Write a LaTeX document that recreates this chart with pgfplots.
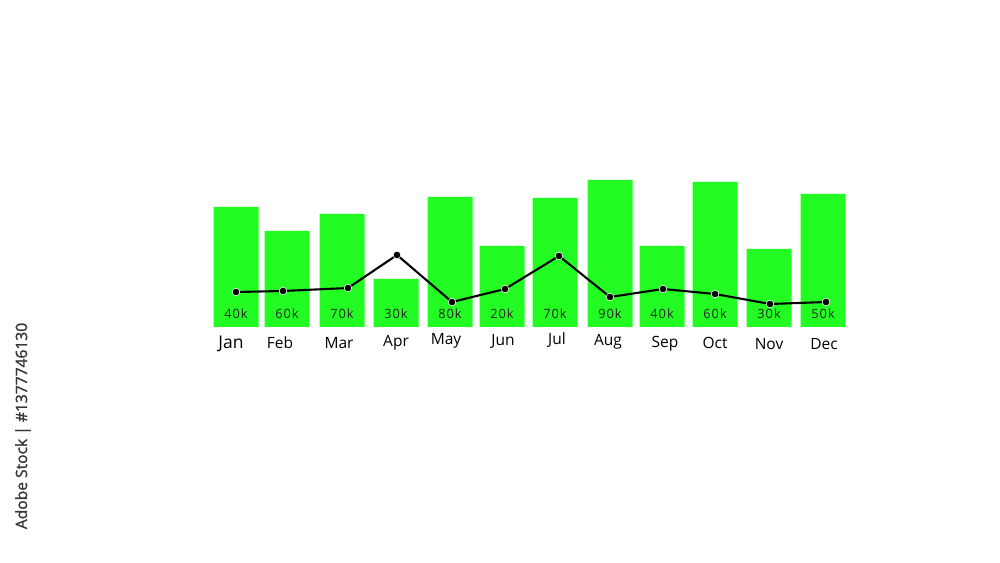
\documentclass[border=0pt]{standalone}
\usepackage{pgfplots}
\pgfplotsset{compat=1.18}
\usepackage{fontspec}
\setmainfont{Open Sans}
\definecolor{barGreen}{RGB}{34,252,34}
\definecolor{wm}{RGB}{55,55,55}
\tikzset{
  vl/.style={font=\fontsize{12.8}{14}\selectfont\addfontfeatures{LetterSpace=8}, text=black!85},
  ml/.style={font=\fontsize{15.5}{18}\selectfont},
}
\begin{document}
\begin{tikzpicture}
\begin{axis}[
  scale only axis, width=1000pt, height=562pt,
  xmin=0, xmax=1000, ymin=-235, ymax=327,
  axis lines=none, ticks=none, clip=false,
]
\path[draw=none, fill=none] (rel axis cs:0,0) rectangle (rel axis cs:1,1);
% bars: x = centre (px), y = height (px above baseline)
\addplot[ybar, bar width=45, fill=barGreen, draw=none] coordinates {
 (236,120) (287,96) (342,113) (396,48) (450,130) (502,81)
 (555,129) (610,147) (662,81) (715,145) (769,78) (823,133)};
% line
\addplot[black, line width=2.1pt, mark=*, mark size=3.8pt,
  mark options={fill=black, draw=white, line width=0.6pt}] coordinates {
 (236,35) (283,36) (348,39) (397,72) (452,25) (505,38)
 (559,71) (610,30) (663,38) (715,33) (770,23) (826,25)};
% labels inside bars
\node[vl] at (axis cs:236,13) {40k};
\node[vl] at (axis cs:287,13) {60k};
\node[vl] at (axis cs:342,13) {70k};
\node[vl] at (axis cs:396,13) {30k};
\node[vl] at (axis cs:450,13) {80k};
\node[vl] at (axis cs:502,13) {20k};
\node[vl] at (axis cs:555,13) {70k};
\node[vl] at (axis cs:610,13) {90k};
\node[vl] at (axis cs:662,13) {40k};
\node[vl] at (axis cs:715,13) {60k};
\node[vl] at (axis cs:769,13) {30k};
\node[vl] at (axis cs:823,13) {50k};
% month labels
\node[font=\fontsize{17.5}{20}\selectfont] at (axis cs:231,-17) {Jan};
\node[ml] at (axis cs:280,-16) {Feb};
\node[ml] at (axis cs:339,-16) {Mar};
\node[ml] at (axis cs:396,-16) {Apr};
\node[ml] at (axis cs:446,-14) {May};
\node[ml] at (axis cs:503,-14) {Jun};
\node[ml] at (axis cs:557,-13) {Jul};
\node[ml] at (axis cs:608,-15) {Aug};
\node[ml] at (axis cs:665,-17) {Sep};
\node[ml] at (axis cs:715,-16) {Oct};
\node[ml] at (axis cs:769,-17) {Nov};
\node[ml] at (axis cs:824,-17) {Dec};
% watermark caption
\node[rotate=90, text=wm, font=\fontsize{15.6}{18}\selectfont\addfontfeatures{FakeBold=1.5}] at (axis cs:23,-99) {Adobe Stock | \#1377746130};
\end{axis}
\end{tikzpicture}
\end{document}
